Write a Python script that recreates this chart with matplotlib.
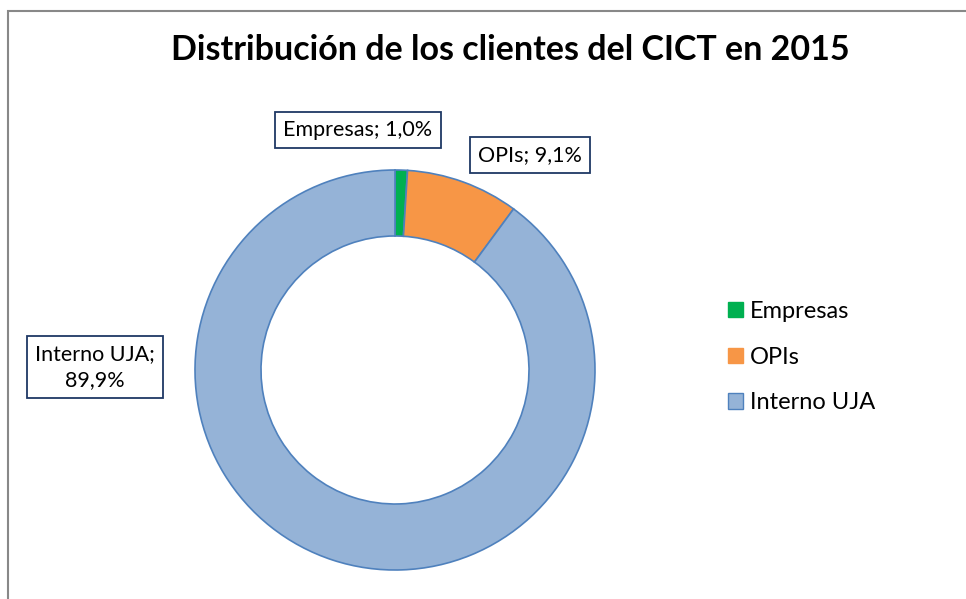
import matplotlib.pyplot as plt
import matplotlib.patches as patches

# data
categories = ["Empresas", "OPIs", "Interno UJA"]
shares = [1.0, 9.1, 89.9]
label_texts = ["Empresas; 1,0%", "OPIs; 9,1%", "Interno UJA;\n89,9%"]
colors = ["#00B050", "#F79646", "#95B3D7"]
edges = ["#4F81BD", "#4F81BD", "#4F81BD"]

plt.rcParams["font.family"] = ["Lato", "DejaVu Sans"]

W, H = 966, 599
fig = plt.figure(figsize=(W / 100, H / 100), dpi=100)

# outer chart frame (only top and left visible in the reference)
fig.patches.append(
    patches.Rectangle((8 / W, -0.1), 1.2, 1 - 11 / H + 0.1,
                      transform=fig.transFigure, fill=False,
                      edgecolor="#888888", linewidth=1.5)
)

# donut axes: centre (395, 370) px, radius 200 px
cx, cy, r = 395, 370, 200
ax = fig.add_axes([(cx - r) / W, (H - cy - r) / H, 2 * r / W, 2 * r / H])
wedges, _ = ax.pie(
    shares, colors=colors, startangle=90, counterclock=False,
    radius=1.0, wedgeprops=dict(width=0.33, linewidth=1.2),
)
for w, ec in zip(wedges, edges):
    w.set_edgecolor(ec)
ax.set_xlim(-1, 1)
ax.set_ylim(-1, 1)
ax.set_aspect("equal")
ax.axis("off")

# title
fig.text(510 / W, 1 - 50 / H, "Distribución de los clientes del CICT en 2015",
         ha="center", va="center", fontsize=24.5, fontweight="bold")

# data labels in boxes
label_pos = [(358, 130), (530, 155), (95, 367)]
for txt, (px, py) in zip(label_texts, label_pos):
    fig.text(px / W, 1 - py / H, txt, ha="center", va="center", fontsize=15.5,
             linespacing=1.4,
             bbox=dict(boxstyle="square,pad=0.38", facecolor="white",
                       edgecolor="#1F3864", linewidth=1.3))

# legend
handles = [patches.Patch(facecolor=c, edgecolor=(ec if i == 2 else c))
           for i, (c, ec) in enumerate(zip(colors, edges))]
fig.legend(handles, categories, loc="center left",
           bbox_to_anchor=(707 / W, 1 - 357 / H), frameon=False,
           fontsize=17, handlelength=0.62, handleheight=0.62,
           handletextpad=0.3, labelspacing=1.05)

fig.savefig("out.png", dpi=100)
